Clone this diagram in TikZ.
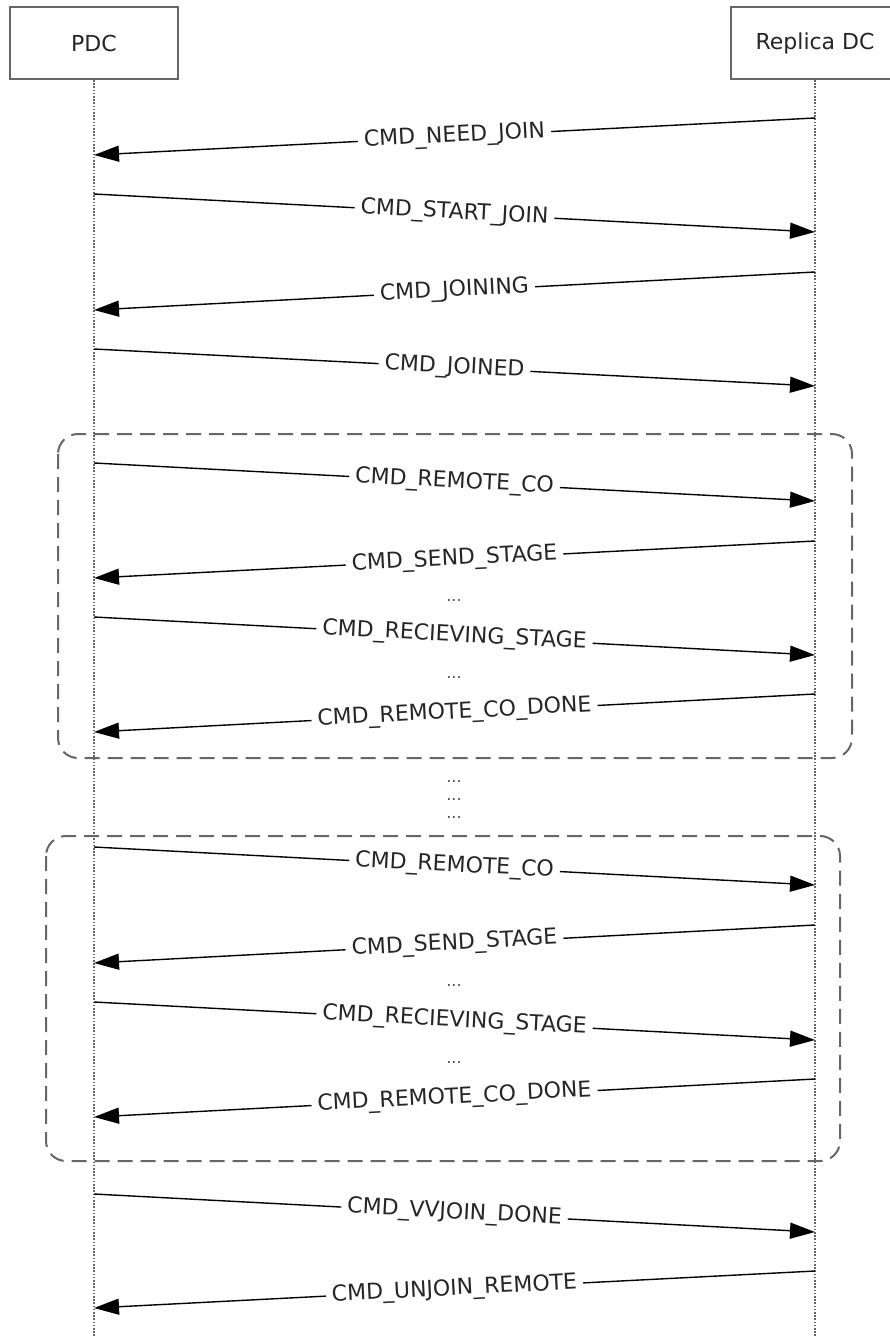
\documentclass[tikz,border=0pt]{standalone}
\usepackage{fontspec}
\setmainfont{DejaVu Sans}
\usetikzlibrary{positioning,arrows.meta}

\begin{document}
\begin{tikzpicture}[x=1pt,y=-1pt,->,>={Triangle[length=25pt,width=16pt]},line width=1.4pt,
		node distance=721pt,font=\fontsize{22}{26}\selectfont,
		actor node/.style={rectangle,draw=black!60,line width=2pt,fill=white,minimum width=168pt,minimum height=72pt,text=black!85},
		life line/.style={-,draw=black!60,line width=1.6pt,dash pattern=on 1.6pt off 1.6pt},
		frame box/.style={-,draw=black!60,line width=2pt,dash pattern=on 15pt off 8pt,rounded corners=20pt},
		msg/.style={sloped,fill=white,text=black!85,inner xsep=6pt,inner ysep=1pt},
		gap/.style={anchor=base,inner sep=0pt,text=black!70,font=\fontsize{16}{18}\selectfont}]
		\useasboundingbox (0,0) rectangle (889,1337);
		% lifelines
		\node[actor node] (pdc) at (94,43) {PDC};
		\node[actor node] (rdc) [right of= pdc] {Replica DC};
		\coordinate (pdc end) at (94,1337);
		\coordinate (rdc end) at (815,1337);
		\draw[life line] (pdc) -- (pdc end);
		\draw[life line] (rdc) -- (rdc end);
		
		% fragments
		\draw[frame box] (58,434) rectangle (852,758);
		\draw[frame box] (46,836) rectangle (840,1161);
		
		% ends of the messages
		\path (815,118) coordinate (r1) (94,155) coordinate (p1)
		(94,194) coordinate (p2) (815,232) coordinate (r2)
		(815,272) coordinate (r3) (94,310) coordinate (p3)
		(94,349) coordinate (p4) (815,386) coordinate (r4)
		(94,463) coordinate (p5) (815,501) coordinate (r5)
		(815,541) coordinate (r6) (94,578) coordinate (p6)
		(94,617) coordinate (p7) (815,655) coordinate (r7)
		(815,694) coordinate (r8) (94,732) coordinate (p8)
		(94,847) coordinate (p9) (815,885) coordinate (r9)
		(815,925) coordinate (r10) (94,963) coordinate (p10)
		(94,1002) coordinate (p11) (815,1040) coordinate (r11)
		(815,1079) coordinate (r12) (94,1117) coordinate (p12)
		(94,1194) coordinate (p13) (815,1232) coordinate (r13)
		(815,1271) coordinate (r14) (94,1308) coordinate (p14);
		
		\path[->]
		(r1) edge node[msg] {CMD\_NEED\_JOIN} (p1)
		(p2) edge node[msg] {CMD\_START\_JOIN} (r2)
		(r3) edge node[msg] {CMD\_JOINING} (p3)
		(p4) edge node[msg] {CMD\_JOINED} (r4)
		(p5) edge node[msg] {CMD\_REMOTE\_CO} (r5)
		(r6) edge node[msg] {CMD\_SEND\_STAGE} (p6)
		(p7) edge node[msg] {CMD\_RECIEVING\_STAGE} (r7)
		(r8) edge node[msg] {CMD\_REMOTE\_CO\_DONE} (p8)
		(p9) edge node[msg] {CMD\_REMOTE\_CO} (r9)
		(r10) edge node[msg] {CMD\_SEND\_STAGE} (p10)
		(p11) edge node[msg] {CMD\_RECIEVING\_STAGE} (r11)
		(r12) edge node[msg] {CMD\_REMOTE\_CO\_DONE} (p12)
		(p13) edge node[msg] {CMD\_VVJOIN\_DONE} (r13)
		(r14) edge node[msg] {CMD\_UNJOIN\_REMOTE} (p14);
		
		% skipped steps
		\node[gap] (d1) at (454,601) {...};
		\node[gap] (d2) at (454,678) {...};
		\node[gap] (d3) at (454,782) {...};
		\node[gap] (d4) at (454,800) {...};
		\node[gap] (d5) at (454,818) {...};
		\node[gap] (d6) at (454,986) {...};
		\node[gap] (d7) at (454,1063) {...};
\end{tikzpicture}
\end{document}
